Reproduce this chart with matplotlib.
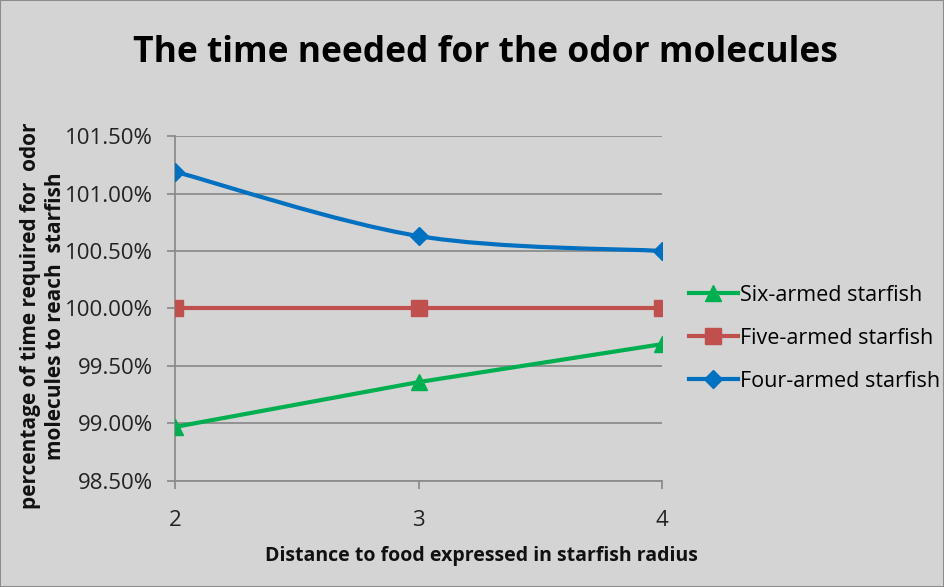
import matplotlib.pyplot as plt
import numpy as np
from matplotlib.path import Path
from matplotlib.patches import PathPatch, Rectangle
from matplotlib.lines import Line2D
from matplotlib.ticker import FuncFormatter

plt.rcParams['font.family'] = ['Open Sans', 'DejaVu Sans']

distance = [2, 3, 4]
six_armed = [98.97, 99.36, 99.69]
five_armed = [100.0, 100.0, 100.0]
four_armed = [101.19, 100.63, 100.50]

bg = '#d4d4d4'
green = '#00b050'
red = '#c0504d'
blue = '#0070c0'


def smooth_path(x, y):
    # Excel style smoothed line: cubic bezier, control points from neighbours
    x = np.asarray(x, float)
    y = np.asarray(y, float)
    n = len(x)
    verts = [(x[0], y[0])]
    codes = [Path.MOVETO]
    for i in range(n - 1):
        p0 = np.array([x[max(i - 1, 0)], y[max(i - 1, 0)]])
        p1 = np.array([x[i], y[i]])
        p2 = np.array([x[i + 1], y[i + 1]])
        p3 = np.array([x[min(i + 2, n - 1)], y[min(i + 2, n - 1)]])
        c1 = p1 + (p2 - p0) / 6
        c2 = p2 - (p3 - p1) / 6
        verts += [tuple(c1), tuple(c2), tuple(p2)]
        codes += [Path.CURVE4] * 3
    return Path(verts, codes)


fig = plt.figure(figsize=(9.44, 5.87), dpi=100, facecolor=bg)
ax = fig.add_axes([0.1854, 0.1806, 0.5159, 0.5877])
ax.set_facecolor(bg)

ax.plot(distance, six_armed, color=green, lw=3, marker='^', ms=11, zorder=3)
ax.plot(distance, five_armed, color=red, lw=3, marker='s', ms=11, zorder=3)
ax.add_patch(PathPatch(smooth_path(distance, four_armed), fill=False,
                       edgecolor=blue, lw=3, zorder=3))
ax.plot(distance, four_armed, color=blue, lw=0, marker='D', ms=9, zorder=4)

ax.set_xlim(2, 4)
ax.set_ylim(98.5, 101.5)
ax.set_xticks(distance)
ax.set_yticks(np.arange(98.5, 101.51, 0.5))
ax.yaxis.set_major_formatter(FuncFormatter(lambda v, p: f'{v:.2f}%'))
ax.grid(axis='y', color='#8c8c8c', lw=1.3)
ax.set_axisbelow(True)
for s in ['top', 'right']:
    ax.spines[s].set_visible(False)
for s in ['left', 'bottom']:
    ax.spines[s].set_color('#8c8c8c')
    ax.spines[s].set_linewidth(1.3)
ax.tick_params(axis='both', colors='#8c8c8c', labelcolor='#222222',
               labelsize=16, length=6, width=1.3)
ax.tick_params(axis='x', pad=15)
ax.tick_params(axis='y', pad=10)

fig.text(0.51, 0.052, 'Distance to food expressed in starfish radius',
         ha='center', va='center', fontsize=14, fontweight='bold', color='#111111')
fig.text(0.046, 0.462, 'percentage of time required for  odor\nmolecules to reach  starfish',
         ha='center', va='center', rotation=90, fontsize=15, fontweight='bold',
         color='#111111', linespacing=1.25)

fig.text(0.514, 0.91, 'The time needed for the odor molecules',
         ha='center', va='center', fontsize=25.5, fontweight='bold', color='#000000')

handles = [
    Line2D([], [], color=green, lw=3, marker='^', ms=11),
    Line2D([], [], color=red, lw=3, marker='s', ms=11),
    Line2D([], [], color=blue, lw=3, marker='D', ms=9),
]
labels = ['Six-armed starfish', 'Five-armed starfish', 'Four-armed starfish']
fig.legend(handles, labels, loc='center left', bbox_to_anchor=(0.709, 0.424),
           frameon=False, fontsize=15.5, handlelength=2.3, handletextpad=0.1,
           labelspacing=1.02)

fig.add_artist(Rectangle((0, 0), 1, 1, transform=fig.transFigure, fill=False,
                         edgecolor='#8c8c8c', lw=1.5))

fig.savefig('out.png', dpi=100, facecolor=bg)
